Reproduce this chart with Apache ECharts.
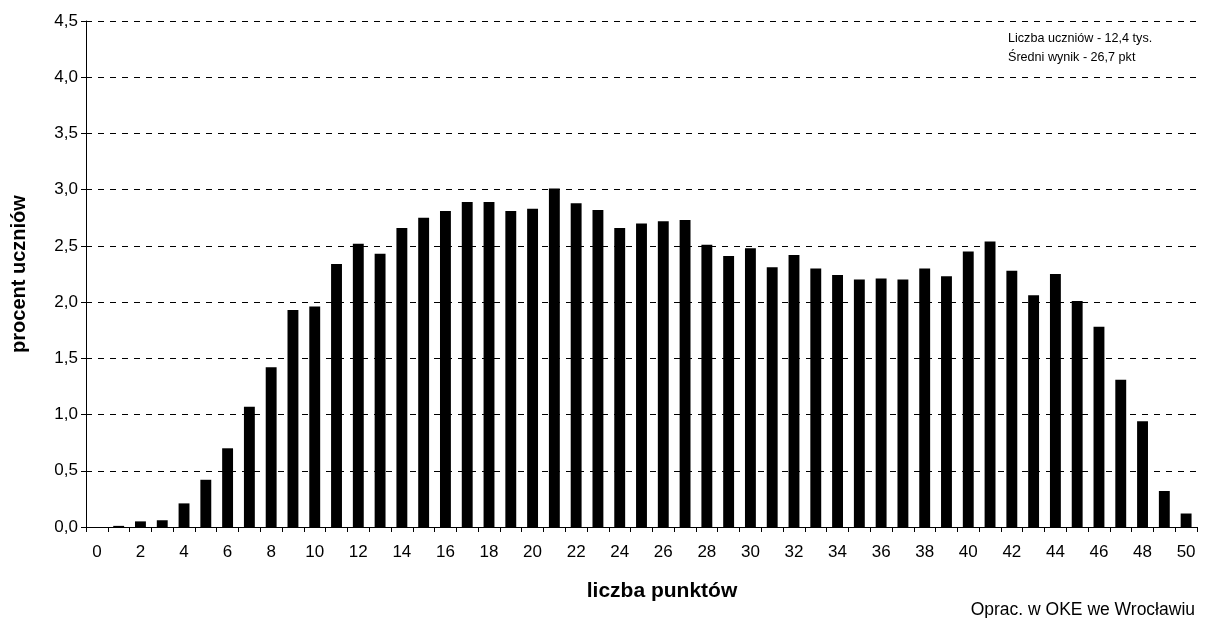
<!DOCTYPE html>
<html>
<head>
<meta charset="utf-8">
<script src="https://cdn.jsdelivr.net/npm/echarts@6/dist/echarts.min.js"></script>
<style>
html,body{margin:0;padding:0;background:#fff;}
#chart{width:1222px;height:618px;}
</style>
</head>
<body>
<div id="chart"></div>
<script>
const categories = Array.from({length: 51}, (_, i) => String(i));
const percentValues = [
  0, 0.01, 0.05, 0.06, 0.21, 0.42, 0.70, 1.07, 1.42, 1.93,
  1.96, 2.34, 2.52, 2.43, 2.66, 2.75, 2.81, 2.89, 2.89, 2.81,
  2.83, 3.01, 2.88, 2.82, 2.66, 2.70, 2.72, 2.73, 2.51, 2.41,
  2.48, 2.31, 2.42, 2.30, 2.24, 2.20, 2.21, 2.20, 2.30, 2.23,
  2.45, 2.54, 2.28, 2.06, 2.25, 2.01, 1.78, 1.31, 0.94, 0.32,
  0.12
];
const yTitle = 'procent uczniów';
const xTitle = 'liczba punktów';
const noteLines = ['Liczba uczniów - 12,4 tys.', 'Średni wynik - 26,7 pkt'];
const footnote = 'Oprac. w OKE we Wrocławiu';

const FONT = 'Liberation Sans, Arial, sans-serif';
const chart = echarts.init(document.getElementById('chart'), null, {renderer: 'canvas'});
chart.setOption({
  animation: false,
  backgroundColor: '#fff',
  grid: {left: 86, right: 25, top: 21, bottom: 91, containLabel: false},
  graphic: [
    {type: 'text', left: 1008, top: 29, style: {text: noteLines.join('\n'), font: '12.6px ' + FONT, fill: '#000', lineHeight: 19}},
    {type: 'text', x: 662, y: 581, style: {text: xTitle, font: 'bold 21px ' + FONT, fill: '#000', align: 'center', verticalAlign: 'top'}},
    {type: 'text', right: 27, top: 601, style: {text: footnote, font: '17.5px ' + FONT, fill: '#000'}}
  ],
  xAxis: {
    type: 'category',
    data: categories,
    axisLine: {lineStyle: {color: '#000', width: 1}},
    axisTick: {show: true, interval: 0, length: 5, lineStyle: {color: '#000'}},
    axisLabel: {interval: 1, fontFamily: FONT, fontSize: 17, color: '#000', margin: 17},
    splitLine: {show: false}
  },
  yAxis: {
    type: 'value',
    min: 0, max: 4.5, interval: 0.5,
    name: yTitle,
    nameLocation: 'middle',
    nameGap: 57,
    nameRotate: 90,
    nameTextStyle: {fontFamily: FONT, fontSize: 20, fontWeight: 'bold', color: '#000'},
    axisLine: {show: true, lineStyle: {color: '#000', width: 1}},
    axisTick: {show: true, length: 5, lineStyle: {color: '#000'}},
    axisLabel: {fontFamily: FONT, fontSize: 17, color: '#000', margin: 8,
      formatter: v => v.toFixed(1).replace('.', ',')},
    splitLine: {show: true, lineStyle: {color: '#000', type: [6, 6], width: 1}}
  },
  series: [{
    type: 'bar',
    data: percentValues,
    barWidth: '50%',
    itemStyle: {color: '#000'}
  }]
});
</script>
</body>
</html>
